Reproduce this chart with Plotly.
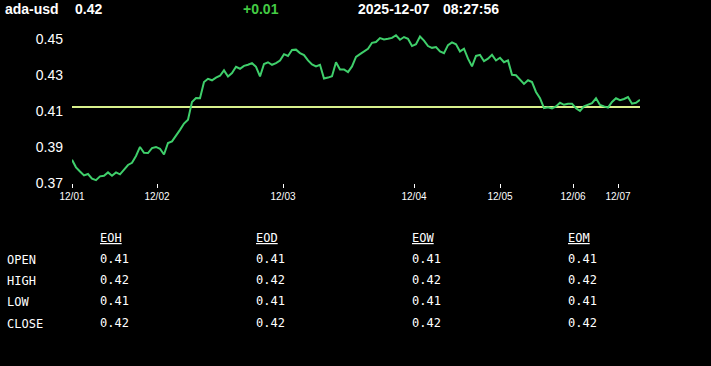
import plotly.graph_objects as go

symbol = "ada-usd"
last_price = "0.42"
change = "+0.01"
date_str = "2025-12-07"
time_str = "08:27:56"

prices = [
    0.3829, 0.3787, 0.3764, 0.3742, 0.3750, 0.3724, 0.3716, 0.3737, 0.3740, 0.3759,
    0.3740, 0.3759, 0.3748, 0.3772, 0.3800, 0.3812, 0.3850, 0.3900, 0.3868, 0.3866,
    0.3894, 0.3900, 0.3890, 0.3858, 0.3922, 0.3931, 0.3960, 0.3995, 0.4030, 0.4051,
    0.4150, 0.4171, 0.4170, 0.4260, 0.4278, 0.4270, 0.4285, 0.4295, 0.4325, 0.4291,
    0.4310, 0.4345, 0.4334, 0.4350, 0.4356, 0.4365, 0.4345, 0.4291, 0.4360, 0.4370,
    0.4356, 0.4365, 0.4380, 0.4415, 0.4405, 0.4438, 0.4440, 0.4421, 0.4410, 0.4380,
    0.4358, 0.4347, 0.4356, 0.4280, 0.4285, 0.4292, 0.4370, 0.4330, 0.4330, 0.4315,
    0.4347, 0.4400, 0.4415, 0.4428, 0.4445, 0.4478, 0.4482, 0.4504, 0.4497, 0.4500,
    0.4505, 0.4520, 0.4495, 0.4510, 0.4500, 0.4460, 0.4470, 0.4513, 0.4490, 0.4460,
    0.4450, 0.4454, 0.4430, 0.4420, 0.4465, 0.4480, 0.4470, 0.4430, 0.4445, 0.4390,
    0.4347, 0.4405, 0.4411, 0.4376, 0.4390, 0.4411, 0.4380, 0.4395, 0.4370, 0.4380,
    0.4300, 0.4298, 0.4273, 0.4250, 0.4270, 0.4260, 0.4205, 0.4171, 0.4115, 0.4120,
    0.4114, 0.4125, 0.4145, 0.4134, 0.4140, 0.4140, 0.4115, 0.4100, 0.4125, 0.4135,
    0.4143, 0.4170, 0.4133, 0.4125, 0.4118, 0.4150, 0.4170, 0.4160, 0.4166, 0.4177,
    0.4140, 0.4145, 0.4162,
]
ref_level = 0.4122

tick_positions = [0, 21.25, 52.75, 85.5, 107, 125.25, 136.5]
tick_labels = ["12/01", "12/02", "12/03", "12/04", "12/05", "12/06", "12/07"]
y_ticks = [0.37, 0.39, 0.41, 0.43, 0.45]

row_labels = ["OPEN", "HIGH", "LOW", "CLOSE"]
col_labels = ["EOH", "EOD", "EOW", "EOM"]
# rows: OPEN, HIGH, LOW, CLOSE ; columns: EOH, EOD, EOW, EOM
table_values = [
    ["0.41", "0.41", "0.41", "0.41"],
    ["0.42", "0.42", "0.42", "0.42"],
    ["0.41", "0.41", "0.41", "0.41"],
    ["0.42", "0.42", "0.42", "0.42"],
]

W, H = 711, 366
ML, MR, MT, MB = 72, 71, 30, 183

x_idx = list(range(len(prices)))

fig = go.Figure()
fig.add_trace(go.Scatter(
    x=[0, len(prices) - 1], y=[ref_level, ref_level], mode="lines",
    line=dict(color="#d9f08c", width=2), hoverinfo="skip", showlegend=False,
))
fig.add_trace(go.Scatter(
    x=x_idx, y=prices, mode="lines",
    line=dict(color="#3fcf6b", width=2), showlegend=False,
))

fig.update_layout(
    width=W, height=H,
    margin=dict(l=ML, r=MR, t=MT, b=MB),
    paper_bgcolor="black", plot_bgcolor="black",
    xaxis=dict(
        range=[0, len(prices) - 1], tickmode="array", tickvals=tick_positions,
        ticktext=tick_labels, showgrid=False, zeroline=False, showline=False,
        ticks="outside", ticklen=4, tickwidth=1, tickcolor="white",
        tickfont=dict(family="Liberation Sans", size=10, color="white"),
    ),
    yaxis=dict(
        range=[0.37, 0.4549], tickmode="array", tickvals=y_ticks,
        ticktext=[f"{v:.2f}" for v in y_ticks],
        showgrid=False, zeroline=False, showline=False, ticks="",
        ticklabelstandoff=8,
        tickfont=dict(family="Liberation Sans", size=14, color="white"),
    ),
    font=dict(color="white"),
)

def paper_text(text, x_px, y_px, size, color="white", family="Liberation Sans", bold=False, xanchor="left"):
    fig.add_annotation(
        text=f"<b>{text}</b>" if bold else text,
        xref="paper", yref="paper",
        x=(x_px - ML) / (W - ML - MR), y=1 - (y_px - MT) / (H - MT - MB),
        xanchor=xanchor, yanchor="middle", showarrow=False,
        font=dict(family=family, size=size, color=color),
    )

paper_text(symbol, 3, 9, 14, bold=True)
paper_text(last_price, 73, 9, 14, bold=True)
paper_text(change, 241, 9, 14, color="#44cc44", bold=True)
paper_text(date_str, 356, 9, 14, bold=True)
paper_text(time_str, 441, 9, 14, bold=True)

mono = "DejaVu Sans Mono"
col_x = [98, 254, 410, 566]
row_y = [260, 281, 302, 324]
for cx, lab in zip(col_x, col_labels):
    paper_text(f"<u>{lab}</u>", cx, 238, 12, family=mono)
for ry, lab in zip(row_y, row_labels):
    paper_text(lab, 5, ry, 12, family=mono)
for ri, ry in enumerate(row_y):
    for ci, cx in enumerate(col_x):
        paper_text(table_values[ri][ci], cx, ry - 1, 12, family=mono)

fig.write_html("out.html")
